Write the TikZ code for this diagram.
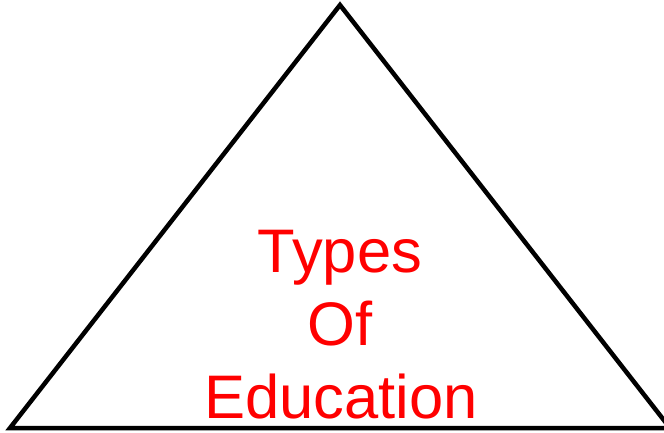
\documentclass[tikz,border=0pt]{standalone}
\usepackage{fontspec}
\setmainfont{Liberation Sans}
\usepackage{xcolor}

\begin{document}
\begin{tikzpicture}[x=1pt,y=1pt,
    label/.style={text=red,font=\fontsize{61.5}{73}\selectfont,anchor=base,inner sep=0pt}]
    \useasboundingbox (0,0) rectangle (664,432);
    \clip (0,0) rectangle (664,432);
    \coordinate (apex) at (340,427);
    \coordinate (left) at (10,4);
    \coordinate (right) at (670,4);
    \draw [line width=4.5pt] (apex) -- (left) -- (right) -- cycle;
    \node[label] (types) at (340,160) {Types};
    \node[label] (of) at (340,87) {Of};
    \node[label] (edu) at (341,14) {Education};
\end{tikzpicture}
\end{document}
